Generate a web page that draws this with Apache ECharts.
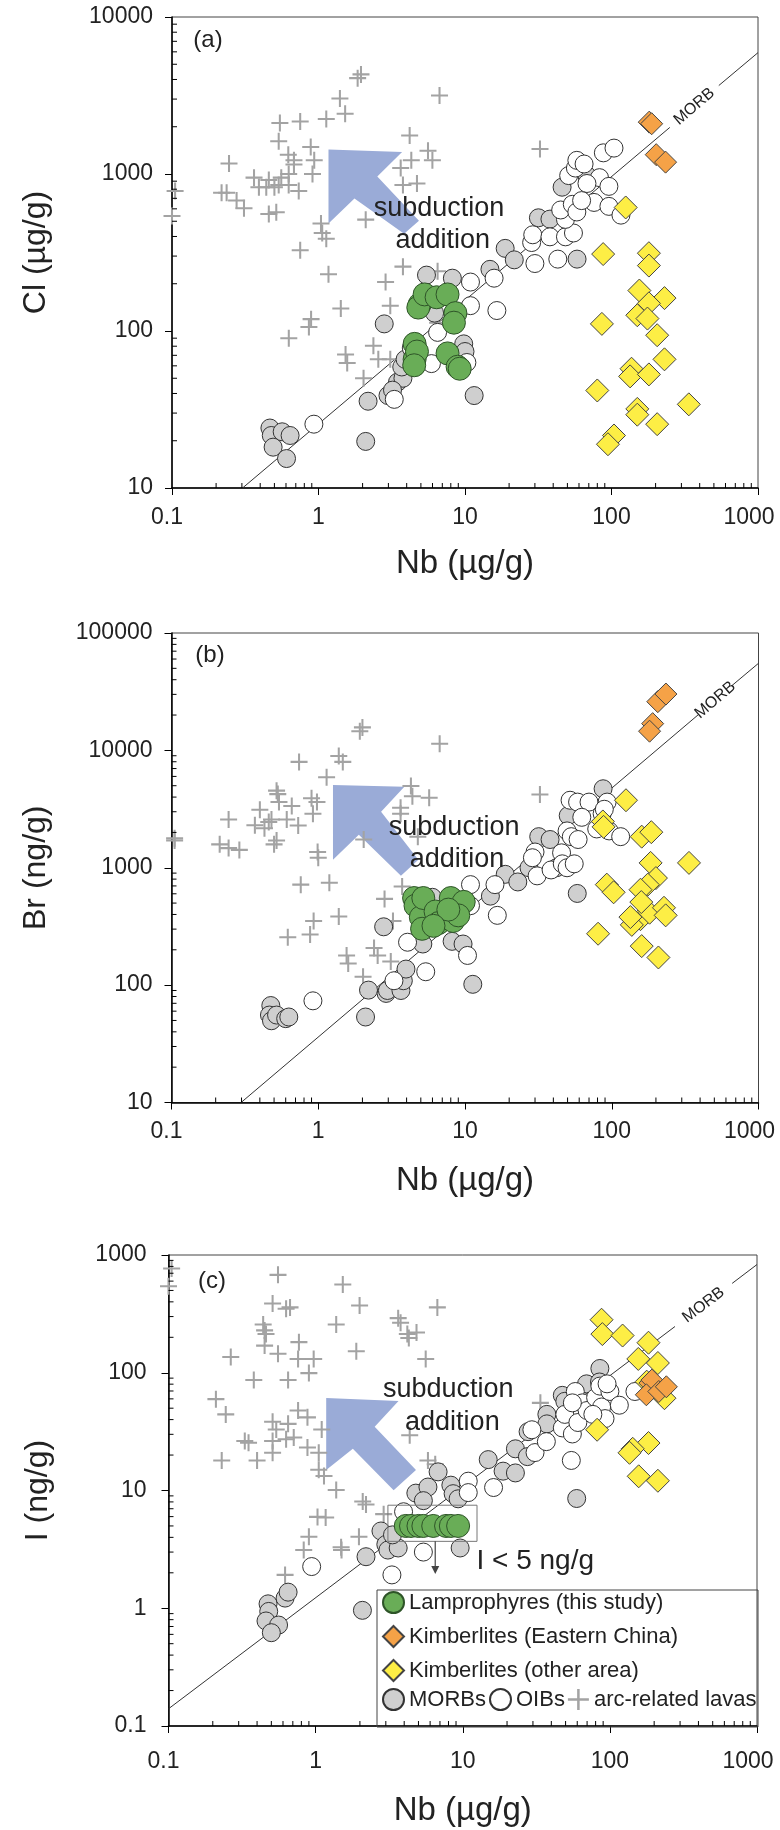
<!DOCTYPE html>
<html><head><meta charset="utf-8">
<script src="https://cdn.jsdelivr.net/npm/echarts@6/dist/echarts.min.js"></script>
<style>html,body{margin:0;padding:0;background:#fff}#c{width:780px;height:1830px}</style>
</head><body><div id="c"></div>
<script>
// ---------------- DATA ----------------
const xTickLabels = ['0.1','1','10','100','1000'];
const yTickLabelsA = ['10','100','1000','10000'];
const yTickLabelsB = ['10','100','1000','10000','100000'];
const yTickLabelsC = ['0.1','1','10','100','1000'];

// Panel (a): Nb (µg/g) vs Cl (µg/g)
const arcA = [[0.105,780],[0.1,540],[1.95,4310],[1.85,4080],[1.40,3030],[1.52,2420],[1.13,2240],[0.75,2160],[0.545,2110],[6.7,3160],[4.19,1760],[0.535,1616],[0.885,1485],[0.622,1328],[0.68,1222],[0.935,1222],[0.245,1167],[5.59,1406],[5.99,1222],[4.3,1222],[3.64,1091],[0.68,1150],[0.363,948],[0.458,915],[0.557,948],[0.626,1000],[0.91,1000],[0.392,824],[0.44,824],[0.5,824],[0.535,850],[0.626,850],[0.733,780],[0.218,760],[0.236,760],[0.276,678],[0.31,606],[0.458,557],[0.515,570],[3.77,850],[4.7,870],[2.1,512],[1.04,484],[1.06,421],[1.13,387],[0.75,327],[1.17,230],[3.77,257],[2.87,205],[1.42,139],[3.09,145],[0.89,119],[0.86,106],[0.627,90],[1.53,70.8],[1.57,62.5],[2.37,80.5],[2.56,66],[3.09,66],[2.03,50],[6.5,240],[6.5,113],[32.5,1445]];
const morbA = [[0.466,24.1],[0.476,21.6],[0.49,18.2],[0.565,22.8],[0.64,21.6],[0.605,15.4],[2.1,19.8],[2.18,35.7],[2.81,111],[2.98,38.8],[3.46,47.2],[3.77,50],[3.7,59],[3.9,66],[4.4,74],[5.46,227],[8.2,217],[11.55,38.8],[9.8,82.8],[10,74],[14.8,247],[18.8,336],[21.7,284],[31.7,526],[38,516],[58.2,287],[46,824],[68,978],[6.2,130],[3.2,42]];
const oibA = [[0.93,25.5],[3.29,36.7],[6.5,98],[10.9,205],[10.9,145],[15.8,217],[16.5,135],[10.3,63],[30,269],[28.5,366],[29,410],[38,398],[43,287],[48.5,398],[55,421],[48.5,514],[45,590],[54,641],[58,573],[51,977],[56.7,1091],[58,1222],[65,1158],[82.8,948],[96,834],[76,659],[96,622],[116,547],[88,1364],[104,1462],[68,870],[62.5,677],[4.3,78],[5.9,62]];
const lampA = [[4.9,147.5],[4.8,141],[5.3,171],[6.4,164],[7.6,171],[8.6,130],[8.4,113],[4.53,82.8],[4.53,66],[4.7,74],[7.6,72],[8.9,59.2],[9.2,57.5],[4.5,60.5]];
const kimbChinaA = [[181,2140],[188,2090],[202,1328],[234,1190]];
const kimbOtherA = [[125,612],[87.7,309],[180,313],[180,261],[86,111],[155,181],[230,162],[180,150],[150,126],[176,120],[205,94],[230,66],[137,57.5],[134,51.4],[180,52.9],[80,41.8],[337,34.1],[150,31.9],[150,29.3],[205,25.5],[104,21.6],[94.6,19]];
const morbLineA = [[0.303,10],[250,1980],[540,3660],[1000,5930]];

// Panel (b): Nb (µg/g) vs Br (ng/g)
const arcB = [[0.105,1706],[0.105,1780],[0.213,1582],[0.245,2580],[0.245,1470],[0.29,1420],[0.37,2306],[0.4,3114],[0.43,2170],[0.46,2450],[0.48,2580],[0.52,4540],[0.53,4240],[0.54,3625],[0.5,1582],[0.52,1706],[0.61,2580],[0.66,3360],[0.74,7980],[0.73,2290],[0.76,718],[0.9,3910],[0.92,2890],[0.98,3625],[1.14,5900],[1.38,8940],[1.47,7980],[1.92,14560],[2.0,15700],[0.99,1362],[1.0,1217],[1.19,744],[1.38,385],[0.93,352],[0.88,270],[0.62,256],[4.28,4970],[4.38,4060],[5.7,3950],[3.64,3240],[3.64,2890],[4.77,1840],[2.04,1740],[6.72,11380],[32.4,4210],[2.83,543],[2.4,207],[2.54,179],[3.12,159],[1.56,179],[1.6,153],[2.02,118],[3.73,692],[3.23,352]];
const morbB = [[0.475,67],[0.465,55.6],[0.48,49.7],[0.52,55.6],[0.6,51.8],[0.63,53.5],[2.1,53.5],[2.2,90.7],[2.9,85],[2.96,90],[3.66,90],[3.8,109],[3.96,137],[2.79,314],[5.16,224],[8.17,236],[9.7,224],[11.3,101.6],[14.9,573],[18.8,879],[22.9,757],[27.3,1000],[31.8,1840],[38,1740],[50.5,2780],[58.2,604],[87.3,4710],[42,1000],[6,560]];
const oibB = [[0.92,73.5],[3.28,109],[4.06,232],[5.4,130],[10.4,179],[10.9,718],[10.9,475],[16,718],[16.6,393],[30,1362],[28.8,1217],[31,853],[38.6,958],[45.5,1340],[46,1080],[49.6,1000],[55.5,1080],[49.6,2060],[53,1840],[59,1740],[52,3760],[58.5,3625],[70,3625],[62.5,2690],[79,2140],[86,2890],[93,3625],[96,2060],[115,1840],[89,3150]];
const lampB = [[4.5,552],[4.6,475],[5,379],[5.1,302],[5.2,552],[6.3,424],[6.6,338],[8,552],[8.3,352],[9.8,512],[9.0,393],[7.7,440],[6.1,320]];
const kimbChinaB = [[206,26000],[234,30200],[190,16900],[181,14570]];
const kimbOtherB = [[125,3760],[87,2480],[88,2230],[160,1840],[186,2010],[184,1100],[336,1100],[200,817],[176,718],[157,650],[92.5,718],[103,618],[157,365],[137,326],[181,414],[227,456],[233,393],[80.7,274],[160,215],[208,172],[134,380],[159,510]];
const morbLineB = [[0.298,10],[390,20200],[660,35700],[1000,55200]];

// Panel (c): Nb (µg/g) vs I (ng/g)
const arcC = [[0.105,769],[0.1,542],[0.555,678],[1.53,562],[0.51,387],[0.67,359],[0.63,350],[1.99,373],[6.72,359],[3.64,291],[3.78,266],[1.38,257],[0.44,257],[0.45,229],[0.46,213],[0.45,170],[0.77,182],[4.2,213],[4.85,220],[4.3,197],[1.89,152],[0.555,145],[0.76,131],[0.97,131],[0.265,136],[5.6,131],[0.9,99.3],[0.38,86.7],[0.65,86.7],[0.21,59.7],[0.245,44.3],[0.76,47.8],[0.88,41.8],[0.65,36.8],[0.51,38.3],[0.54,33],[0.71,28.2],[0.63,27.2],[0.51,26.3],[0.51,20.9],[0.33,26.3],[0.35,25.4],[0.88,23.2],[1.1,33],[1.05,20.9],[0.23,18],[0.4,18],[1.05,15],[1.14,13.3],[1.38,10.1],[4.36,29.4],[33.7,55.5],[5.8,18],[6.5,16.7],[2.09,8.05],[2.2,7.6],[1.03,5.97],[1.17,5.9],[1.5,3.12],[1.49,3.3],[0.9,4.04],[0.83,3.12],[1.97,4.04],[0.62,1.92],[2.9,6.3]];
const morbC = [[0.475,1.09],[0.48,0.94],[0.46,0.78],[0.56,0.72],[0.5,0.62],[0.62,1.22],[0.65,1.37],[2.08,0.96],[2.2,2.74],[2.78,4.53],[3.0,3.48],[3.1,3.12],[3.64,3.25],[3.33,4.2],[4.8,9.5],[5.8,10.7],[5.4,8.2],[6.8,14.4],[8.3,11.1],[8.6,9.4],[9.3,8.5],[9.6,3.25],[14.9,18.3],[18.8,14.6],[22.8,14.1],[22.8,22.6],[27.8,31.6],[27.5,19.4],[37.3,44.3],[37.3,36.8],[47.5,64.3],[49.4,57.2],[69.4,80.5],[85.5,108.7],[59.5,8.55],[85,83.5]];
const oibC = [[0.94,2.26],[3.3,1.92],[5.4,3.0],[3.96,6.6],[10.9,12],[10.9,9.6],[16.2,10.6],[29.5,32.8],[31,21],[37,26],[47.5,34],[49.4,44.3],[54.7,18],[55.6,30.2],[60.6,37.8],[58.2,69.3],[65,55.5],[70,47.8],[80,61.5],[87.9,51.2],[85.5,77],[92.7,40.8],[100,69.3],[116,53],[148,69.3],[76.6,44.3],[95.7,80.5],[55.6,55.5]];
const lampC = [[4.1,5],[4.45,5],[5.0,5],[5.4,5],[6.3,5],[7.7,5],[8.3,5],[9.3,5]];
const kimbChinaC = [[187,81.7],[193,86.6],[177,65],[215,69.3],[242,76]];
const kimbOtherC = [[87.8,282],[88.9,213],[122,207],[183,180],[156,131],[212,121],[235,60.8],[81.9,32.8],[183,25.3],[143,22.6],[136,20.9],[157,13.2],[212,12.1],[178,84]];
const morbLineC = [[0.1,0.14],[277,247],[678,574],[1000,830]];

// ------------- ANNOTATIONS (data-space anchors) -------------
const arrowA = [[1.17,1430],[3.72,1380],[2.52,964],[4.85,504],[3.84,416],[1.76,697],[1.17,484]];
const arrowB = [[1.26,5080],[3.86,4900],[2.68,3000],[4.81,1172],[3.66,853],[1.89,1910],[1.26,1172]];
const arrowC = [[1.18,61],[3.66,57.5],[2.52,34.8],[4.81,14.9],[3.39,10.07],[1.79,22.6],[1.18,14.9]];
const annot = [
  {label:'(a)', sub:[6.64,605], add:[7.06,376]},
  {label:'(b)', sub:[8.43,2220], add:[8.83,1172]},
  {label:'(c)', sub:[7.98,72], add:[8.5,38]}
];
const limitBoxC = [[3.1,3.7],[12.5,7.5]];
const limitArrowC = [[6.5,3.7],[6.5,1.95]];
const limitTextC = [12.4,2.5];

// ------------- LAYOUT / STYLE -------------
const FONT = 'Liberation Sans, Arial, Helvetica, sans-serif';
const grids = [
  {left:172, top:17, width:586, height:471},
  {left:171.5, top:633, width:587, height:469.5},
  {left:168.5, top:1255, width:588.5, height:471}
];
const xRange = [0.1,1000];
const yRanges = [[10,10000],[10,100000],[0.1,1000]];
const yNames = ['Cl (µg/g)','Br (ng/g)','I (ng/g)'];
const yLabelSets = [yTickLabelsA, yTickLabelsB, yTickLabelsC];
const xLabelMargin = [18,18,24];
const xNameGap = [59,62,68];
const yNameGap = [120,119,114];
const yLabelMargin = [19,19,22];
const panelLabelPos = [[208,40],[210,655],[212,1281]];

const NAMES = {
  lamp:'Lamprophyres (this study)', kc:'Kimberlites (Eastern China)', ko:'Kimberlites (other area)',
  morb:'MORBs', oib:'OIBs', arc:'arc-related lavas'
};
const plusPath = 'path://M0,44 L100,44 L100,56 L0,56 Z M44,0 L56,0 L56,100 L44,100 Z';

const panels = [
  {arc:arcA, morb:morbA, oib:oibA, lamp:lampA, kc:kimbChinaA, ko:kimbOtherA, line:morbLineA, arrow:arrowA},
  {arc:arcB, morb:morbB, oib:oibB, lamp:lampB, kc:kimbChinaB, ko:kimbOtherB, line:morbLineB, arrow:arrowB},
  {arc:arcC, morb:morbC, oib:oibC, lamp:lampC, kc:kimbChinaC, ko:kimbOtherC, line:morbLineC, arrow:arrowC}
];

function fmt(labels, minExp, edges){
  return v => {
    const idx = Math.round(Math.log10(v)) - minExp;
    const s = labels[idx] || '';
    if (edges && idx === labels.length - 1) return '{last|' + s + '}';
    if (edges && idx === 0) return '{first|' + s + '}';
    return s;
  };
}

const xAxes = [], yAxes = [], series = [];
panels.forEach((p, i) => {
  const axisCommon = {
    type:'log', logBase:10, splitNumber:5,
    axisLine:{show:true, onZero:false, lineStyle:{color:'#000', width:1.5}},
    axisTick:{show:true, inside:false, length:7, lineStyle:{color:'#000', width:1}},
    minorTick:{show:false}, splitLine:{show:false},
    nameLocation:'middle'
  };
  xAxes.push(Object.assign({}, axisCommon, {
    gridIndex:i, min:xRange[0], max:xRange[1], name:'Nb (µg/g)', nameGap:xNameGap[i],
    nameTextStyle:{fontSize:33, color:'#222', fontFamily:FONT},
    axisLabel:{fontSize:23, color:'#222', fontFamily:FONT, margin:xLabelMargin[i], formatter:fmt(xTickLabels,-1,true),
      rich:{last:{fontSize:23, color:'#222', fontFamily:FONT, padding:[0,18,0,0]},
            first:{fontSize:23, color:'#222', fontFamily:FONT, padding:[0,10,0,0]}}}
  }));
  const yr = yRanges[i];
  yAxes.push(Object.assign({}, axisCommon, {
    gridIndex:i, min:yr[0], max:yr[1], name:yNames[i], nameGap:yNameGap[i], nameRotate:90,
    nameTextStyle:{fontSize:32, color:'#222', fontFamily:FONT},
    axisLabel:{fontSize:23, color:'#222', fontFamily:FONT, margin:yLabelMargin[i],
      formatter:fmt(yLabelSets[i], Math.round(Math.log10(yr[0])), false)}
  }));

  const ax = {xAxisIndex:i, yAxisIndex:i};
  series.push(Object.assign({
    type:'custom', silent:true, z:1, clip:false, data:[[1,yr[0]*10]],
    renderItem:(params, api) => ({
      type:'polygon', shape:{points:p.arrow.map(pt => api.coord(pt))},
      style:{fill:'#9aabd7'}
    })
  }, ax));
  series.push(Object.assign({
    type:'line', silent:true, z:2, showSymbol:false, symbol:'none', clip:true,
    lineStyle:{color:'#333', width:1},
    data:[p.line[0], p.line[1], ['-','-'], p.line[2], p.line[3]]
  }, ax));
  const sc = (name, data, symbol, size, color, border, bw, z) => Object.assign({
    type:'scatter', name, data, symbol, symbolSize:size, z,
    itemStyle:{color, borderColor:border, borderWidth:bw, opacity:1}
  }, ax);
  series.push(sc(NAMES.arc, p.arc, plusPath, 17, '#a3a3a3', '#a3a3a3', 0, 3));
  series.push(sc(NAMES.morb, p.morb, 'circle', 18, '#cfcfcf', '#333', 1, 4));
  series.push(sc(NAMES.oib, p.oib, 'circle', 18, '#ffffff', '#333', 1, 4));
  series.push(sc(NAMES.ko, p.ko, 'diamond', 23, '#fdee45', '#444', 1, 5));
  series.push(sc(NAMES.kc, p.kc, 'diamond', 22, '#f5a247', '#444', 1, 5));
  series.push(sc(NAMES.lamp, p.lamp, 'circle', 23, '#69ad57', '#2e5428', 1, 6));

  series.push(Object.assign({
    type:'custom', silent:true, z:10, clip:false, data:[[1,yr[0]*10]],
    renderItem:(params, api) => {
      const ch = [];
      const txt = (pt, s, size) => {
        const c = api.coord(pt);
        ch.push({type:'text', x:c[0], y:c[1],
          style:{text:s, fontSize:size, fontFamily:FONT, fill:'#222', align:'center', verticalAlign:'middle'}});
      };
      txt(annot[i].sub, 'subduction', 27);
      txt(annot[i].add, 'addition', 27);
      const g1 = api.coord(p.line[1]), g2 = api.coord(p.line[2]);
      const ang = Math.atan2(-(g2[1]-g1[1]), g2[0]-g1[0]);
      ch.push({type:'text', x:(g1[0]+g2[0])/2, y:(g1[1]+g2[1])/2, rotation:ang,
        style:{text:'MORB', fontSize:16, fontFamily:FONT, fill:'#222', align:'center', verticalAlign:'middle'}});
      const y0 = yr[0], y1 = yr[1];
      for (let d = xRange[0]; d < xRange[1]*0.999; d *= 10) {
        for (let k = 2; k <= 9; k++) {
          const c = api.coord([d*k, y0]);
          ch.push({type:'line', shape:{x1:c[0], y1:c[1], x2:c[0], y2:c[1]-5}, style:{stroke:'#000', lineWidth:1}});
        }
      }
      for (let d = y0; d < y1*0.999; d *= 10) {
        for (let k = 2; k <= 9; k++) {
          const c = api.coord([xRange[0], d*k]);
          ch.push({type:'line', shape:{x1:c[0], y1:c[1], x2:c[0]+5, y2:c[1]}, style:{stroke:'#000', lineWidth:1}});
        }
      }
      if (i === 2) {
        const b0 = api.coord(limitBoxC[0]), b1 = api.coord(limitBoxC[1]);
        ch.push({type:'rect', shape:{x:b0[0], y:b1[1], width:b1[0]-b0[0], height:b0[1]-b1[1]},
          style:{fill:'none', stroke:'#777', lineWidth:1}});
        const a0 = api.coord(limitArrowC[0]), a1 = api.coord(limitArrowC[1]);
        ch.push({type:'line', shape:{x1:a0[0], y1:a0[1], x2:a1[0], y2:a1[1]-6}, style:{stroke:'#444', lineWidth:1.2}});
        ch.push({type:'polygon', shape:{points:[[a1[0]-4,a1[1]-8],[a1[0]+4,a1[1]-8],[a1[0],a1[1]]]}, style:{fill:'#444'}});
        const t = api.coord(limitTextC);
        ch.push({type:'text', x:t[0], y:t[1], style:{text:'I < 5 ng/g', fontSize:28, fontFamily:FONT, fill:'#222', align:'left', verticalAlign:'middle'}});
      }
      return {type:'group', children:ch};
    }
  }, ax));
});

const chart = echarts.init(document.getElementById('c'), null, {renderer:'canvas'});
chart.setOption({
  backgroundColor:'#fff',
  animation:false,
  grid: grids.map(g => Object.assign({show:true, borderColor:'#444', borderWidth:1, backgroundColor:'transparent', containLabel:false, outerBoundsMode:'none'}, g)),
  xAxis: xAxes,
  yAxis: yAxes,
  legend: [
    {orient:'vertical', left:382, top:1591, padding:0, itemGap:11, itemWidth:21, itemHeight:21, selectedMode:false,
     data:[NAMES.lamp, NAMES.kc, NAMES.ko],
     textStyle:{fontSize:22, color:'#222', fontFamily:FONT, lineHeight:21}},
    {orient:'horizontal', left:382, top:1688, padding:0, itemGap:3, itemWidth:21, itemHeight:21, selectedMode:false,
     data:[NAMES.morb, NAMES.oib, NAMES.arc],
     textStyle:{fontSize:22, color:'#222', fontFamily:FONT, lineHeight:21}}
  ],
  graphic: [
    {type:'rect', z:3, shape:{x:377, y:1590, width:381, height:137}, style:{fill:'none', stroke:'#444', lineWidth:1}},
    ...panelLabelPos.map((pos, i) => ({type:'text', x:pos[0], y:pos[1], z:20,
      style:{text:annot[i].label, fontSize:24, fontFamily:FONT, fill:'#222', align:'center', verticalAlign:'middle'}}))
  ],
  series
});
</script></body></html>
